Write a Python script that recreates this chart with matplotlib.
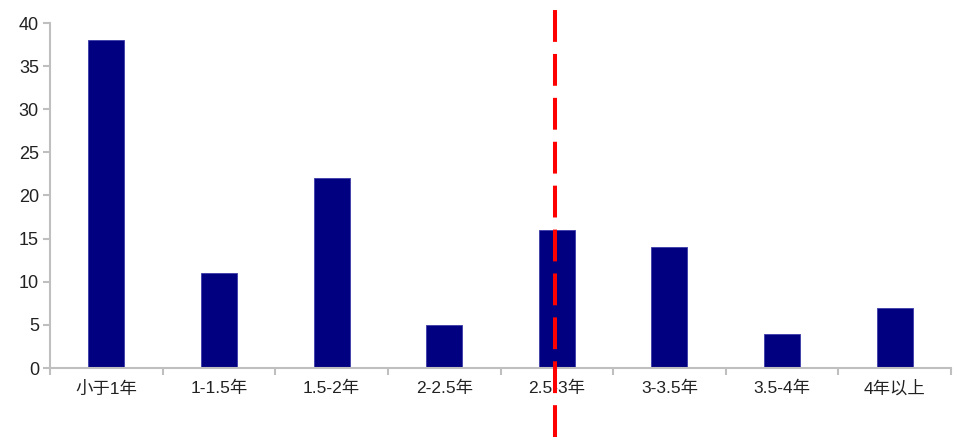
import matplotlib
matplotlib.use("Agg")
import matplotlib.pyplot as plt
import matplotlib.transforms as mtransforms

plt.rcParams["font.family"] = ["Liberation Sans", "Noto Sans CJK SC", "DejaVu Sans"]

categories = ["小于1年", "1-1.5年", "1.5-2年", "2-2.5年", "2.5-3年", "3-3.5年", "3.5-4年", "4年以上"]
counts = [38, 11, 22, 5, 16, 14, 4, 7]
marker_x = 3.98  # position of the red reference line, in category units

NAVY, AXIS, TEXT, RED = "#000080", "#bfbfbf", "#222222", "#ff0000"

fig = plt.figure(figsize=(9.59, 4.48), dpi=100)
ax = fig.add_axes([50 / 959, 80 / 448, 901 / 959, 345 / 448])

x = range(len(categories))
ax.bar(x, counts, width=0.32, color=NAVY, edgecolor="#3a3aa8", linewidth=0.6, zorder=2)

ax.set_xlim(-0.5, len(categories) - 0.5)
ax.set_ylim(0, 40)
ax.set_yticks(range(0, 41, 5))

# category labels centred, ticks on the boundaries
ax.set_xticks(list(x))
ax.set_xticklabels(categories, fontsize=12.5, color=TEXT)
ax.set_xticks([i - 0.5 for i in range(len(categories) + 1)], minor=True)
ax.tick_params(axis="x", which="major", length=0, pad=9)
ax.tick_params(axis="x", which="minor", length=5, width=1.5, color=AXIS)
ax.tick_params(axis="y", length=5, width=1.5, color=AXIS, labelsize=13, labelcolor=TEXT, pad=3)

for sp in ("top", "right"):
    ax.spines[sp].set_visible(False)
for sp in ("left", "bottom"):
    ax.spines[sp].set_color(AXIS)
    ax.spines[sp].set_linewidth(1.5)

# dashed red marker running past the plot area
trans = mtransforms.blended_transform_factory(ax.transData, ax.transAxes)
ax.plot([marker_x, marker_x], [-0.2, 1.043], transform=trans, clip_on=False,
        color=RED, lw=2.9, dashes=(7.9, 3.0), zorder=5)

fig.savefig("out.png", dpi=100, facecolor="white")
